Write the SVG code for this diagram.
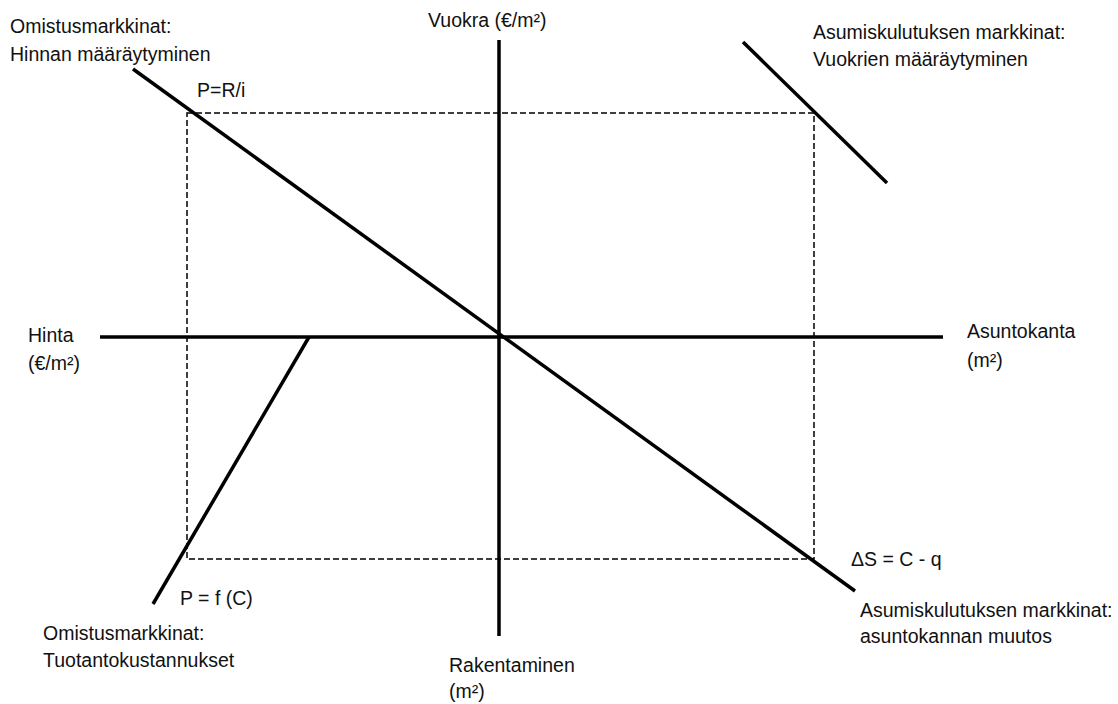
<svg xmlns="http://www.w3.org/2000/svg" width="1118" height="704" viewBox="0 0 1118 704">
<style>
text{font-family:"Liberation Sans",Arial,sans-serif;font-size:19.5px;fill:#111}
.ax{stroke:#000;stroke-width:3.5;fill:none}
.cv{stroke:#000;stroke-width:3.5;fill:none}
.dash{stroke:#000;stroke-width:1.5;fill:none;stroke-dasharray:6 3}
</style>
<rect width="1118" height="704" fill="#fff"/>
<g id="connectors">
<rect class="dash" x="187" y="113" width="627" height="446"/>
<line class="ax" x1="100" y1="337" x2="943" y2="337"/>
<line class="ax" x1="499" y1="40" x2="499" y2="636"/>
<line class="cv" x1="133" y1="69" x2="855" y2="591"/>
<line class="cv" x1="743" y1="42" x2="887" y2="183"/>
<line class="cv" x1="309" y1="337" x2="153" y2="604"/>
</g>
<g id="omistus-hinta"><text x="10" y="33">Omistusmarkkinat:</text><text x="10" y="61">Hinnan määräytyminen</text></g>
<g id="pri"><text x="197" y="97">P=R/i</text></g>
<g id="vuokra"><text x="428" y="27">Vuokra (€/m²)</text></g>
<g id="asumis-vuokrat"><text x="813" y="39">Asumiskulutuksen markkinat:</text><text x="813" y="66">Vuokrien määräytyminen</text></g>
<g id="hinta"><text x="28" y="342">Hinta</text><text x="28" y="370">(€/m²)</text></g>
<g id="asuntokanta"><text x="967" y="338">Asuntokanta</text><text x="967" y="367">(m²)</text></g>
<g id="pfc"><text x="180" y="605">P = f (C)</text></g>
<g id="omistus-tuotanto"><text x="43" y="640">Omistusmarkkinat:</text><text x="43" y="667">Tuotantokustannukset</text></g>
<g id="rakentaminen"><text x="449" y="672">Rakentaminen</text><text x="449" y="698">(m²)</text></g>
<g id="ds"><text x="851" y="566">ΔS = C - q</text></g>
<g id="asumis-muutos"><text x="860" y="617">Asumiskulutuksen markkinat:</text><text x="860" y="643">asuntokannan muutos</text></g>
</svg>
